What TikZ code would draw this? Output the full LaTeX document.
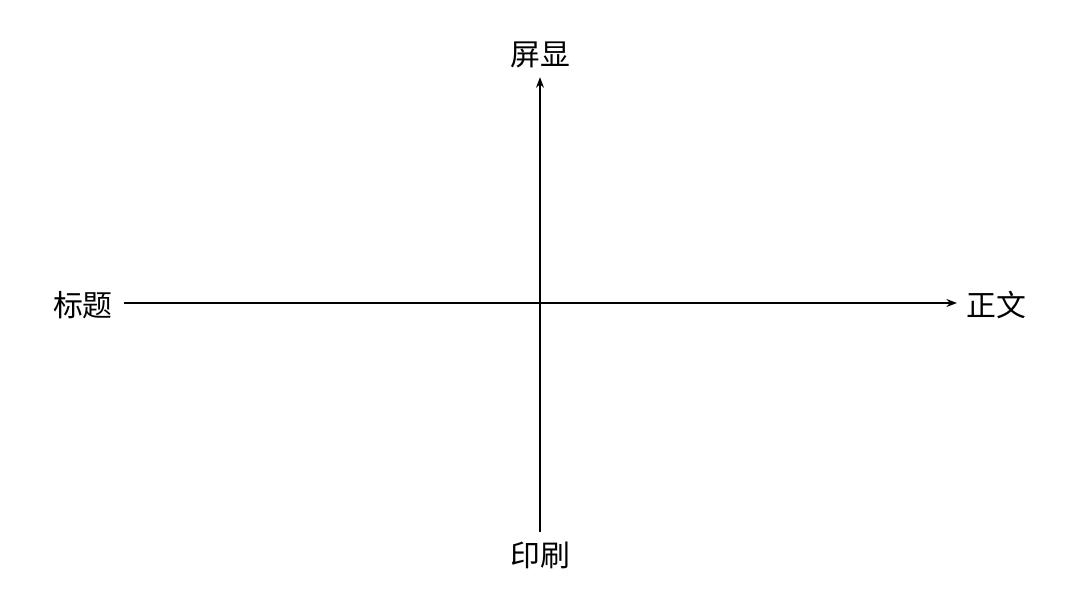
\documentclass[tikz,border=0pt]{standalone}
\usepackage{fontspec}
\setmainfont{Noto Sans CJK SC}
\usetikzlibrary{positioning, arrows.meta}

\begin{document}
\begin{tikzpicture}[x=0.02cm,y=-0.02cm,
    lbl/.style={inner sep=0pt, font=\fontsize{17}{17}\selectfont},
    axis/.style={line width=0.9pt, -{Stealth[length=6pt,width=4.5pt]}}]
    \useasboundingbox (0,0) rectangle (1080,608);
    \coordinate (o) at (540,303);
    \node[lbl] (screen) at (540,55) {屏显};
    \node[lbl] (print)  at (540,555) {印刷};
    \node[lbl] (title)  at (83,305) {标题};
    \node[lbl] (body)   at (996,305) {正文};

    % axes
    \draw[axis, shorten <=6pt, shorten >=5pt] (title.east |- o) -- (body.west |- o);
    \draw[axis, shorten <=5pt, shorten >=5pt] (print.north) -- (screen.south);
\end{tikzpicture}
\end{document}
